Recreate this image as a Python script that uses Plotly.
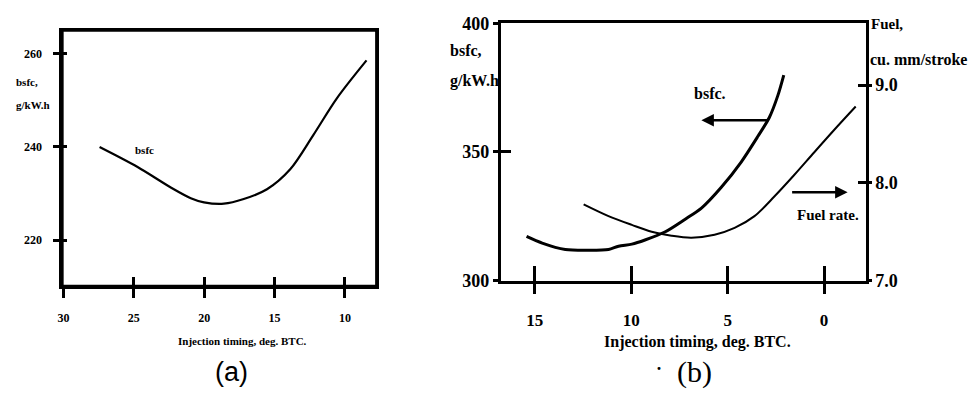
import plotly.graph_objects as go

# ---- data ----
a_timing = [27.43, 24.73, 22.37, 20.95, 20.01, 18.6, 17.19, 15.54, 13.89, 12.24, 10.59, 8.47]
a_bsfc = [240.0, 235.7, 231.3, 229.0, 228.1, 227.8, 228.8, 230.9, 235.2, 242.6, 250.4, 258.6]

b_timing_bsfc = [15.43, 14.62, 13.42, 12.21, 11.18, 10.66, 9.97, 9.29, 8.26, 7.22, 6.36,
                 5.33, 4.30, 3.44, 2.84, 2.40, 2.09]
b_bsfc = [317.2, 314.6, 312.1, 311.8, 312.1, 313.4, 314.2, 315.8, 318.9, 323.8, 328.2,
          336.3, 346.1, 356.0, 363.4, 371.9, 379.9]

b_timing_fuel = [12.47, 11.18, 9.97, 8.94, 7.91, 6.88, 5.68, 4.64, 3.61, 2.58, 1.55,
                 0.52, -0.52, -1.64]
b_fuel = [7.78, 7.66, 7.57, 7.50, 7.46, 7.44, 7.47, 7.54, 7.66, 7.86, 8.08,
          8.31, 8.54, 8.78]

a_xticks = [30, 25, 20, 15, 10]
a_yticks = [220, 240, 260]
b_xticks = [15, 10, 5, 0]
b_yticks = [300, 350, 400]
b_fticks = [7.0, 8.0, 9.0]
b_fticktext = ["7.0", "8.0", "9.0"]

W, H = 968, 398
SERIF = "Liberation Serif"


def px(x):
    return x / W


def py(y):
    return 1 - y / H


fig = go.Figure()
fig.add_trace(go.Scatter(x=a_timing, y=a_bsfc, mode="lines", xaxis="x", yaxis="y",
                         line=dict(color="black", width=2.2, shape="spline", smoothing=0.9)))
fig.add_trace(go.Scatter(x=b_timing_bsfc, y=b_bsfc, mode="lines", xaxis="x2", yaxis="y2",
                         line=dict(color="black", width=3, shape="spline", smoothing=0.8)))
fig.add_trace(go.Scatter(x=b_timing_fuel, y=b_fuel, mode="lines", xaxis="x2", yaxis="y3",
                         line=dict(color="black", width=2, shape="spline", smoothing=0.9)))
# empty traces so the inside-tick overlay axes are drawn
for xa, ya in [("x4", "y4"), ("x5", "y2"), ("x2", "y5"), ("x2", "y6")]:
    fig.add_trace(go.Scatter(x=[], y=[], xaxis=xa, yaxis=ya, hoverinfo="skip"))

line_style = dict(showline=True, linewidth=3, linecolor="black", mirror=True,
                  showgrid=False, zeroline=False, tickcolor="black", tickwidth=2.5)
ov_style = dict(showline=False, showgrid=False, zeroline=False, showticklabels=False,
                ticks="inside", tickcolor="black", tickwidth=2.5)

a_xr = [30.07, 7.77]
a_yr = [210.1, 265.0]
b_xr = [16.77, -2.15]
b_yr = [300, 400]
b_fr = [7.0, 9.631]
a_xd = [px(57.7), px(373.3)]
a_yd = [py(290.7), py(21.7)]
b_xd = [px(498.3), px(865)]
b_yd = [py(285), py(14)]

fig.update_layout(
    width=W, height=H, margin=dict(l=0, r=0, t=0, b=0),
    paper_bgcolor="white", plot_bgcolor="rgba(0,0,0,0)", showlegend=False,
    xaxis=dict(domain=a_xd, anchor="y", range=a_xr, tickmode="array", tickvals=a_xticks,
               ticks="outside", ticklen=9, ticklabelstandoff=10,
               tickfont=dict(family=SERIF, size=12, color="black", weight="bold"), **line_style),
    yaxis=dict(domain=a_yd, anchor="x", range=a_yr, tickmode="array", tickvals=a_yticks,
               ticks="outside", ticklen=6, ticklabelstandoff=9,
               tickfont=dict(family=SERIF, size=12, color="black", weight="bold"), **line_style),
    xaxis4=dict(overlaying="x", anchor="y", range=a_xr, tickmode="array", tickvals=a_xticks,
                ticklen=9, **ov_style),
    yaxis4=dict(overlaying="y", anchor="x", range=a_yr, tickmode="array", tickvals=a_yticks,
                ticklen=5, **ov_style),
    xaxis2=dict(domain=b_xd, anchor="y2", range=b_xr, tickmode="array", tickvals=b_xticks,
                ticks="outside", ticklen=10, ticklabelstandoff=12,
                tickfont=dict(family=SERIF, size=17, color="black", weight="bold"), **line_style),
    yaxis2=dict(domain=b_yd, anchor="x2", range=b_yr, tickmode="array", tickvals=b_yticks,
                ticks="outside", ticklen=5, ticklabelstandoff=0,
                tickfont=dict(family=SERIF, size=18, color="black", weight="bold"), **line_style),
    yaxis3=dict(overlaying="y2", anchor="x2", side="right", range=b_fr, tickmode="array",
                tickvals=b_fticks, ticktext=b_fticktext, ticks="outside", ticklen=5,
                ticklabelstandoff=0, showline=False, showgrid=False, zeroline=False,
                tickcolor="black", tickwidth=2.5,
                tickfont=dict(family=SERIF, size=18, color="black", weight="bold")),
    xaxis5=dict(overlaying="x2", anchor="y2", range=b_xr, tickmode="array", tickvals=b_xticks,
                ticklen=15, **ov_style),
    yaxis5=dict(overlaying="y2", anchor="x2", range=b_yr, tickmode="array", tickvals=b_yticks,
                ticklen=10, **ov_style),
    yaxis6=dict(overlaying="y2", anchor="x2", side="right", range=b_fr, tickmode="array",
                tickvals=b_fticks, ticklen=8, **ov_style),
)

# frame around panel (a)
fig.add_shape(type="rect", xref="x domain", yref="y domain", x0=0, x1=1, y0=0, y1=1,
              line=dict(color="black", width=2.5), layer="above")


def txt(x, y, s, size, family=SERIF, bold=True, xanchor="center"):
    fig.add_annotation(x=px(x), y=py(y), xref="paper", yref="paper", text=s, showarrow=False,
                       xanchor=xanchor, yanchor="middle", borderpad=0,
                       font=dict(family=family, size=size, color="black",
                                 weight="bold" if bold else "normal"))


# panel (a) texts
txt(10, 76, "bsfc,", 11, xanchor="left")
txt(10, 100, "g/kW.h", 11, xanchor="left")
txt(140, 147, "bsfc", 11)
txt(239, 348, "Injection timing, deg. BTC.", 11)
txt(228, 381, "(a)", 27, family="Liberation Sans", bold=False)

# panel (b) texts
txt(446, 43, "bsfc,", 16, xanchor="left")
txt(446, 75, "g/kW.h", 16, xanchor="left")
txt(869, 15, "Fuel,", 15, xanchor="left")
txt(868, 52, "cu. mm/stroke", 16, xanchor="left")
txt(709, 88, "bsfc.", 16)
txt(827, 216, "Fuel rate.", 15)
txt(696, 350, "Injection timing, deg. BTC.", 16)
txt(657, 378, "·", 18)
txt(693, 381, "(b)", 30, bold=False)

# arrows
fig.add_annotation(x=px(700), y=py(116), xref="paper", yref="paper", ax=68, ay=0, text="",
                   showarrow=True, arrowhead=2, arrowsize=1, arrowwidth=2.5, arrowcolor="black")
fig.add_annotation(x=px(847), y=py(192), xref="paper", yref="paper", ax=-57, ay=0, text="",
                   showarrow=True, arrowhead=2, arrowsize=1, arrowwidth=2.5, arrowcolor="black")

fig.write_html("out.html", config={"displayModeBar": False},
               post_script="document.body.style.margin='0';document.body.style.padding='0';"
                           "document.documentElement.style.overflow='hidden';")
